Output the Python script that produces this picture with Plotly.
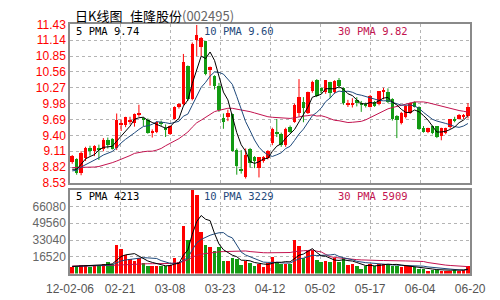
import pandas as pd
import plotly.graph_objects as go

# ---------------- data ----------------
date_labels = ["12-02-06", "02-21", "03-08", "03-23", "04-12", "05-02", "05-17", "06-04", "06-20"]
price_ticks = [8.53, 8.82, 9.11, 9.40, 9.69, 9.98, 10.27, 10.56, 10.85, 11.14, 11.43]
volume_ticks = [16520, 33040, 49560, 66080]

open_ = [8.90, 8.96, 8.71, 8.98, 9.16, 9.10, 9.15, 9.15, 9.31, 9.32,
         9.16, 9.58, 9.58, 9.64, 9.62, 9.78, 9.71, 9.67, 9.44, 9.45,
         9.64, 9.52, 9.42, 9.70, 9.91, 9.96, 10.67, 10.06, 11.14, 11.00,
         11.12, 10.58, 10.48, 10.30, 9.71, 9.73, 9.79, 9.13, 8.77, 8.63,
         9.15, 8.99, 8.80, 8.93, 8.98, 9.25, 9.46, 9.42, 9.22, 9.54,
         9.64, 9.80, 10.00, 9.80, 10.20, 10.40, 10.26, 10.18, 10.36, 10.18,
         10.41, 10.26, 9.96, 9.96, 10.03, 9.99, 9.96, 9.92, 10.00, 9.96,
         10.20, 10.18, 10.06, 9.74, 9.62, 9.73, 9.80, 10.00, 9.91, 9.52,
         9.45, 9.57, 9.56, 9.38, 9.44, 9.54, 9.69, 9.70, 9.74, 9.74]
high = [9.04, 8.98, 9.11, 9.19, 9.21, 9.22, 9.23, 9.35, 9.36, 9.35,
        9.80, 9.69, 9.74, 9.74, 9.80, 9.96, 9.73, 9.71, 9.51, 9.66,
        9.67, 9.60, 9.58, 9.93, 9.99, 10.89, 10.68, 11.10, 11.42, 11.20,
        11.13, 10.66, 10.50, 10.36, 9.80, 9.87, 9.80, 9.16, 9.13, 9.16,
        9.17, 9.02, 9.00, 9.02, 9.13, 9.54, 9.70, 9.45, 9.54, 9.58,
        9.98, 10.43, 10.10, 10.20, 10.40, 10.43, 10.28, 10.41, 10.38, 10.41,
        10.45, 10.28, 10.05, 10.08, 10.10, 10.03, 10.00, 10.14, 10.03, 10.21,
        10.27, 10.26, 10.08, 9.77, 9.83, 9.95, 10.00, 10.02, 9.93, 9.57,
        9.54, 9.58, 9.57, 9.54, 9.54, 9.70, 9.74, 9.79, 9.79, 9.99]
low = [8.88, 8.68, 8.67, 8.93, 9.03, 9.02, 8.95, 9.11, 9.16, 9.14,
       9.13, 9.48, 9.55, 9.60, 9.56, 9.74, 9.57, 9.43, 9.36, 9.44,
       9.57, 9.37, 9.41, 9.69, 9.89, 9.95, 10.03, 10.04, 10.85, 10.85,
       10.50, 10.31, 10.24, 9.83, 9.52, 9.66, 9.10, 8.68, 8.70, 8.61,
       8.81, 8.80, 8.63, 8.90, 8.96, 9.22, 9.37, 9.19, 9.19, 9.44,
       9.63, 9.74, 9.64, 9.79, 10.18, 10.10, 10.16, 10.16, 10.08, 10.16,
       10.26, 9.96, 9.92, 9.91, 9.93, 9.83, 9.91, 9.91, 9.92, 9.95,
       10.06, 9.99, 9.67, 9.35, 9.60, 9.71, 9.79, 9.91, 9.50, 9.45,
       9.44, 9.42, 9.35, 9.31, 9.42, 9.52, 9.64, 9.69, 9.70, 9.71]
close = [9.01, 8.71, 9.07, 9.16, 9.11, 9.19, 9.13, 9.31, 9.21, 9.15,
         9.67, 9.62, 9.73, 9.67, 9.78, 9.81, 9.67, 9.44, 9.48, 9.64,
         9.60, 9.50, 9.56, 9.92, 9.96, 10.74, 10.05, 11.07, 11.22, 11.17,
         10.52, 10.65, 10.30, 9.85, 9.64, 9.81, 9.11, 8.84, 8.74, 9.04,
         8.88, 8.93, 8.99, 9.00, 9.10, 9.51, 9.41, 9.21, 9.51, 9.46,
         9.95, 10.10, 9.89, 10.18, 10.37, 10.12, 10.20, 10.40, 10.16, 10.38,
         10.30, 9.98, 9.99, 9.99, 9.99, 9.96, 9.94, 10.12, 9.93, 10.20,
         10.22, 10.00, 9.69, 9.67, 9.81, 9.93, 9.99, 9.92, 9.51, 9.46,
         9.52, 9.44, 9.37, 9.52, 9.52, 9.69, 9.66, 9.77, 9.76, 9.92]
volume = [6900, 7400, 9000, 9000, 6900, 7400, 8100, 10000, 12100, 9900,
          27900, 24100, 18200, 15000, 13000, 16000, 10600, 7400, 8000, 8000,
          7400, 7400, 8400, 15900, 11200, 47300, 33500, 86000, 78000, 41300,
          28800, 26900, 22500, 26250, 13100, 13100, 15600, 15000, 9000, 12500,
          10600, 7400, 9970, 6500, 10600, 16800, 11850, 9690, 9690, 9690,
          33200, 27850, 15600, 22500, 23800, 13700, 12100, 13100, 12100, 15300,
          12100, 15300, 9000, 9970, 8090, 4990, 7430, 9970, 7430, 9970,
          9970, 9030, 8090, 8090, 6500, 7430, 7430, 6800, 4990, 4330,
          2600, 3800, 3800, 3000, 3000, 3000, 4200, 3200, 3800, 7800]

# moving-average values visible before enough in-window bars exist
price_ma5_head = [8.78, 8.78, 8.87, 8.97]
price_ma10_head = [8.75, 8.76, 8.82, 8.86, 8.91, 8.95, 8.99, 9.04, 9.08]
price_ma30_head = [8.81, 8.81, 8.81, 8.81, 8.81, 8.82, 8.83, 8.85, 8.87, 8.90,
                   8.93, 8.96, 8.99, 9.03, 9.07, 9.09, 9.10, 9.11, 9.11, 9.13,
                   9.16, 9.21, 9.25, 9.29, 9.34, 9.40, 9.46, 9.55, 9.63]
vol_ma5_head = [7000, 7200, 7500, 7800]
vol_ma10_head = [7000, 7100, 7300, 7500, 7600, 7700, 7800, 8000, 8200]
vol_ma30_head = [7400, 7400, 7400, 7400, 7400, 7400, 7500, 7600, 7800, 8000,
                 8300, 8600, 8900, 9100, 9300, 9500, 9600, 9700, 9700, 9700,
                 9800, 9800, 9900, 10000, 10500, 12000, 13500, 16000, 18000]

legend_price = ["5 PMA 9.74", "10 PMA 9.60", "30 PMA 9.82"]
legend_volume = ["5 PMA 4213", "10 PMA 3229", "30 PMA 5909"]

# ---------------- styling ----------------
RED = "#ff0000"
GREEN = "#139a13"
MA_COLORS = ["#000000", "#1f4a7c", "#c3134f"]
GRID = "#b4b4b4"
BORDER = "#8a8a8a"


def moving_average(values, n, head):
    ma = pd.Series(values, dtype=float).rolling(n).mean().tolist()
    for k, v in enumerate(head):
        ma[k] = v
    return ma


n = len(close)
idx = list(range(n))
up = [close[i] >= open_[i] for i in idx]

fig = go.Figure()

# wicks
for is_up, color in [(True, RED), (False, GREEN)]:
    xs, ys = [], []
    for i in idx:
        if up[i] == is_up:
            xs += [i, i, None]
            ys += [low[i], high[i], None]
    fig.add_trace(go.Scatter(x=xs, y=ys, mode="lines", line=dict(color=color, width=1),
                             hoverinfo="skip", showlegend=False, xaxis="x", yaxis="y"))

# bodies
for is_up, color in [(True, RED), (False, GREEN)]:
    sel = [i for i in idx if up[i] == is_up]
    fig.add_trace(go.Bar(
        x=sel,
        y=[max(abs(close[i] - open_[i]), 0.012) for i in sel],
        base=[min(close[i], open_[i]) for i in sel],
        width=0.78, marker=dict(color=color, line=dict(width=0)),
        showlegend=False, xaxis="x", yaxis="y"))

# price moving averages
for nper, head, color in [(30, price_ma30_head, MA_COLORS[2]),
                          (10, price_ma10_head, MA_COLORS[1]),
                          (5, price_ma5_head, MA_COLORS[0])]:
    fig.add_trace(go.Scatter(x=idx, y=moving_average(close, nper, head), mode="lines",
                             line=dict(color=color, width=1), showlegend=False,
                             xaxis="x", yaxis="y"))

# volume bars
fig.add_trace(go.Bar(x=idx, y=volume, width=0.8,
                     marker=dict(color=[RED if u else GREEN for u in up], line=dict(width=0)),
                     showlegend=False, xaxis="x2", yaxis="y2"))

for nper, head, color in [(30, vol_ma30_head, MA_COLORS[2]),
                          (10, vol_ma10_head, MA_COLORS[1]),
                          (5, vol_ma5_head, MA_COLORS[0])]:
    fig.add_trace(go.Scatter(x=idx, y=moving_average(volume, nper, head), mode="lines",
                             line=dict(color=color, width=1), showlegend=False,
                             xaxis="x2", yaxis="y2"))

grid_pos = [-0.5 + k * n / 8 for k in range(9)]

xcommon = dict(range=[-0.5, n - 0.5], tickvals=grid_pos, showgrid=True, gridcolor=GRID,
               griddash="dot", gridwidth=1, showline=True, mirror=True, linecolor=BORDER,
               linewidth=1.5, zeroline=False, ticks="", fixedrange=True,
               domain=[0.1, 0.97])

fig.update_layout(
    width=500, height=300,
    margin=dict(l=0, r=0, t=0, b=0),
    paper_bgcolor="white", plot_bgcolor="white",
    bargap=0, barmode="overlay",
    xaxis=dict(**xcommon, anchor="y", showticklabels=False),
    yaxis=dict(domain=[0.385, 0.939], range=[price_ticks[0], price_ticks[-1]],
               tickvals=price_ticks, ticktext=["%.2f" % v for v in price_ticks],
               tickfont=dict(family="Liberation Sans", size=12, color=RED),
               showgrid=True, gridcolor=GRID, griddash="dot", showline=True, mirror=True,
               linecolor=BORDER, linewidth=1.5, zeroline=False, ticks="", anchor="x",
               ticklabeloverflow="allow"),
    xaxis2=dict(**xcommon, anchor="y2", ticktext=date_labels,
                tickfont=dict(family="Liberation Sans", size=12, color="#555555"),
                ticklabeloverflow="allow", ticklabelstandoff=3),
    yaxis2=dict(domain=[0.068, 0.361], range=[0, 82600], tickvals=volume_ticks,
                ticktext=[str(v) for v in volume_ticks],
                tickfont=dict(family="Liberation Sans", size=12, color="#666666"),
                showgrid=True, gridcolor=GRID, griddash="dot", showline=True, mirror=True,
                linecolor=BORDER, linewidth=1.5, zeroline=False, ticks="", anchor="x2"),
)

annotations = [
    dict(x=53 / 500, y=1 - 9 / 300, text="日K线图", font=dict(family="Noto Sans CJK SC", size=13, color="black")),
    dict(x=113 / 500, y=1 - 9 / 300,
         text="佳隆股份<span style='color:#666666'>(002495)</span>",
         font=dict(family="Noto Sans CJK SC", size=13, color="black")),
]
leg_x = [54 / 500, 194 / 500, 339 / 500]
for k in range(3):
    annotations.append(dict(x=leg_x[k], y=1 - 25 / 300, text=legend_price[k],
                            font=dict(family="DejaVu Sans Mono", size=10.5, color=MA_COLORS[k])))
    annotations.append(dict(x=leg_x[k], y=1 - 198 / 300, text=legend_volume[k],
                            font=dict(family="DejaVu Sans Mono", size=10.5, color=MA_COLORS[k])))
for a in annotations:
    a.update(xref="paper", yref="paper", xanchor="left", yanchor="middle", showarrow=False)
fig.update_layout(annotations=annotations)

fig.write_html("out.html")
